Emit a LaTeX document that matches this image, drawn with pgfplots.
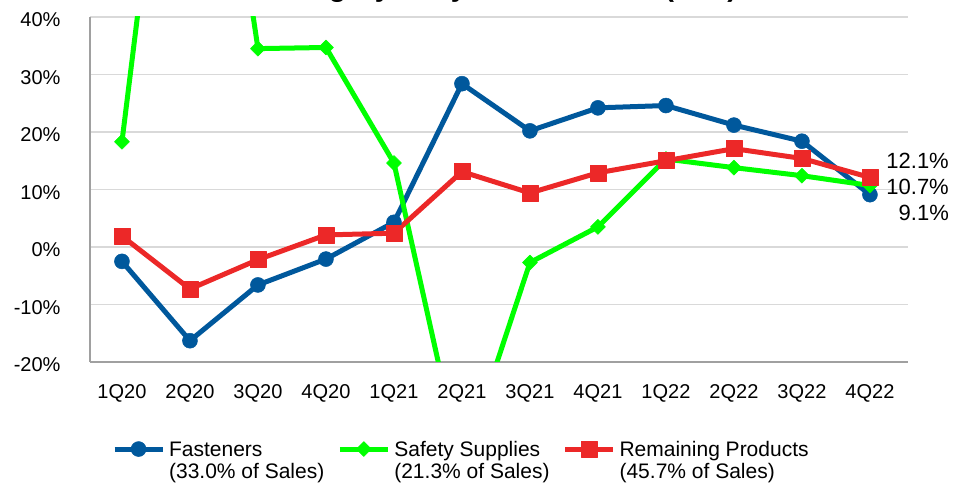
\documentclass[border=0pt]{standalone}
\usepackage{fontspec}
\setmainfont{Liberation Sans}
\usepackage{pgfplots}
\pgfplotsset{compat=1.18}

\definecolor{fastblue}{RGB}{0,88,156}
\definecolor{safegreen}{RGB}{0,255,0}
\definecolor{remred}{RGB}{236,40,40}
\definecolor{gridgray}{RGB}{217,217,217}
\definecolor{axisgray}{RGB}{160,160,160}

\begin{document}
\begin{tikzpicture}[x=1pt,y=1pt]
\begin{axis}[
  at={(90pt,122pt)}, anchor=south west,
  scale only axis, width=818pt, height=345pt,
  xmin=-0.47, xmax=11.56, ymin=-20, ymax=40,
  axis x line*=bottom, axis y line*=left,
  axis line style={-, draw=axisgray, line width=1.5pt},
  ytick={-20,-10,...,40},
  yticklabel={\pgfmathprintnumber{\tick}\%},
  ymajorgrids, grid style={gridgray, line width=1.5pt},
  xtick={0,...,11},
  xticklabels={1Q20,2Q20,3Q20,4Q20,1Q21,2Q21,3Q21,4Q21,1Q22,2Q22,3Q22,4Q22},
  major tick length=0pt,
  /pgf/number format/assume math mode=true,
  tick label style={font=\fontsize{20}{24}\selectfont},
  yticklabel style={anchor=east, xshift=-26pt, yshift=-3pt},
  xticklabel style={anchor=north, yshift=-19pt},
  legend columns=3,
  legend style={at={(axis description cs:0.027,-0.228)}, anchor=north west,
    draw=none, fill=none, inner sep=0pt, outer sep=0pt,
    font=\fontsize{21}{22}\selectfont,
    nodes={inner sep=0pt},
    cells={anchor=base west},
    /tikz/every odd column/.append style={column sep=4pt},
    /tikz/every even column/.append style={column sep=13pt}},
  legend image code/.code={
    \draw[#1, yshift=7pt, mark repeat=2, mark phase=2]
      plot coordinates {(0pt,0pt) (24pt,0pt) (48pt,0pt)};},
]
% Fasteners
\addplot[fastblue, line width=5pt, line join=round, mark=*, mark size=7.5pt,
  mark options={fill=fastblue, draw=fastblue, line width=0.5pt}]
  coordinates {(0,-2.5) (1,-16.3) (2,-6.6) (3,-2.1) (4,4.3) (5,28.4)
               (6,20.2) (7,24.2) (8,24.6) (9,21.2) (10,18.4) (11,9.1)};
\addlegendentry{\begin{tabular}[t]{@{}l@{}}Fasteners\\(33.0\% of Sales)\end{tabular}}
% Safety supplies
\addplot[safegreen, line width=5pt, line join=round, mark=square*, mark size=5.3pt,
  mark options={fill=safegreen, draw=safegreen, line width=0.5pt, rotate=45}]
  coordinates {(0,18.3) (1,114) (2,34.5) (3,34.7) (4,14.6) (5,-38.5)
               (6,-2.7) (7,3.5) (8,15.3) (9,13.8) (10,12.4) (11,10.7)};
\addlegendentry{\begin{tabular}[t]{@{}l@{}}Safety Supplies\\(21.3\% of Sales)\end{tabular}}
% Remaining products
\addplot[remred, line width=5pt, line join=round, mark=square*, mark size=8pt,
  mark options={fill=remred, draw=remred, line width=0.5pt}]
  coordinates {(0,1.9) (1,-7.3) (2,-2.2) (3,2.1) (4,2.4) (5,13.1)
               (6,9.4) (7,12.9) (8,15.0) (9,17.1) (10,15.4) (11,12.1)};
\addlegendentry{\begin{tabular}[t]{@{}l@{}}Remaining Products\\(45.7\% of Sales)\end{tabular}}
\end{axis}
% end-of-period values
\begin{scope}[font=\fontsize{22}{24}\selectfont]
\node[anchor=base east, inner sep=0pt] at (949,315) {12.1\%};
\node[anchor=base east, inner sep=0pt] at (949,289) {10.7\%};
\node[anchor=base east, inner sep=0pt] at (949,263) {9.1\%};
\end{scope}
% chart title, running past the top edge of the page
\node[anchor=base, inner sep=0pt, font=\bfseries\fontsize{28.5}{30}\selectfont]
  at (502,487.5) {Category Daily Sales Growth (YoY)};
\pgfresetboundingbox
\useasboundingbox (0,0) rectangle (957,484);
\end{tikzpicture}
\end{document}
